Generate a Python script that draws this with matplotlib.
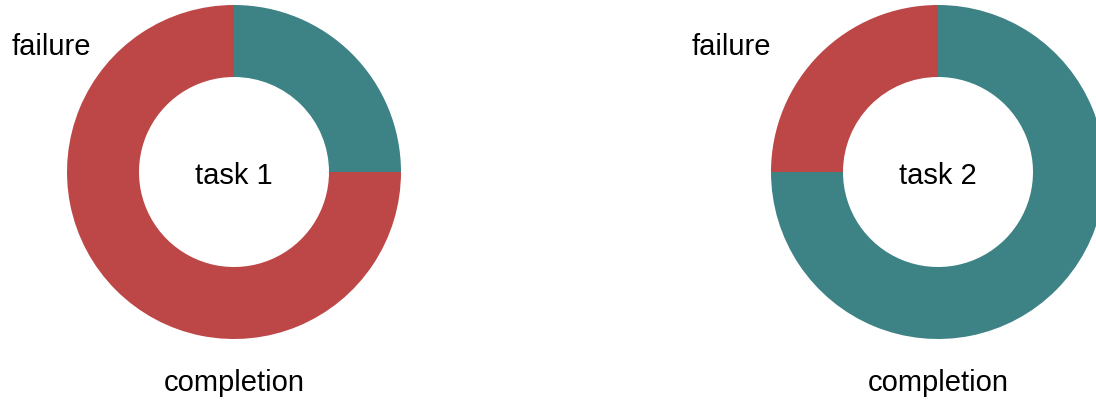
import matplotlib
matplotlib.use("Agg")
import matplotlib.pyplot as plt

tasks = ["task 1", "task 2"]
completion = [25, 75]
failure = [75, 25]
labels = ["completion", "failure"]
colors = ["#3d8285", "#bd4646"]

plt.rcParams['font.family'] = ['Liberation Sans', 'DejaVu Sans']

W, H = 1096, 402
fig = plt.figure(figsize=(W / 100, H / 100), dpi=100)
centers = [(234, 173), (938, 173)]
R = 167
fail_x = [-1.096, -1.24]

for i, task in enumerate(tasks):
    cx, cy = centers[i]
    ax = fig.add_axes([(cx - R) / W, (H - cy - R) / H, 2 * R / W, 2 * R / H])
    ax.pie([completion[i], failure[i]], colors=colors, startangle=90,
           counterclock=False, radius=1.0,
           wedgeprops=dict(width=1 - 95 / R, linewidth=0))
    ax.set_xlim(-1, 1)
    ax.set_ylim(-1, 1)
    ax.set_aspect('equal')
    ax.axis('off')
    ax.text(0, -0.015, task, ha='center', va='center', fontsize=21)
    ax.text(fail_x[i], 0.755, labels[1], ha='center', va='center', fontsize=21, clip_on=False)
    ax.text(0, -1.255, labels[0], ha='center', va='center', fontsize=21, clip_on=False)

fig.savefig("out.png", dpi=100)
